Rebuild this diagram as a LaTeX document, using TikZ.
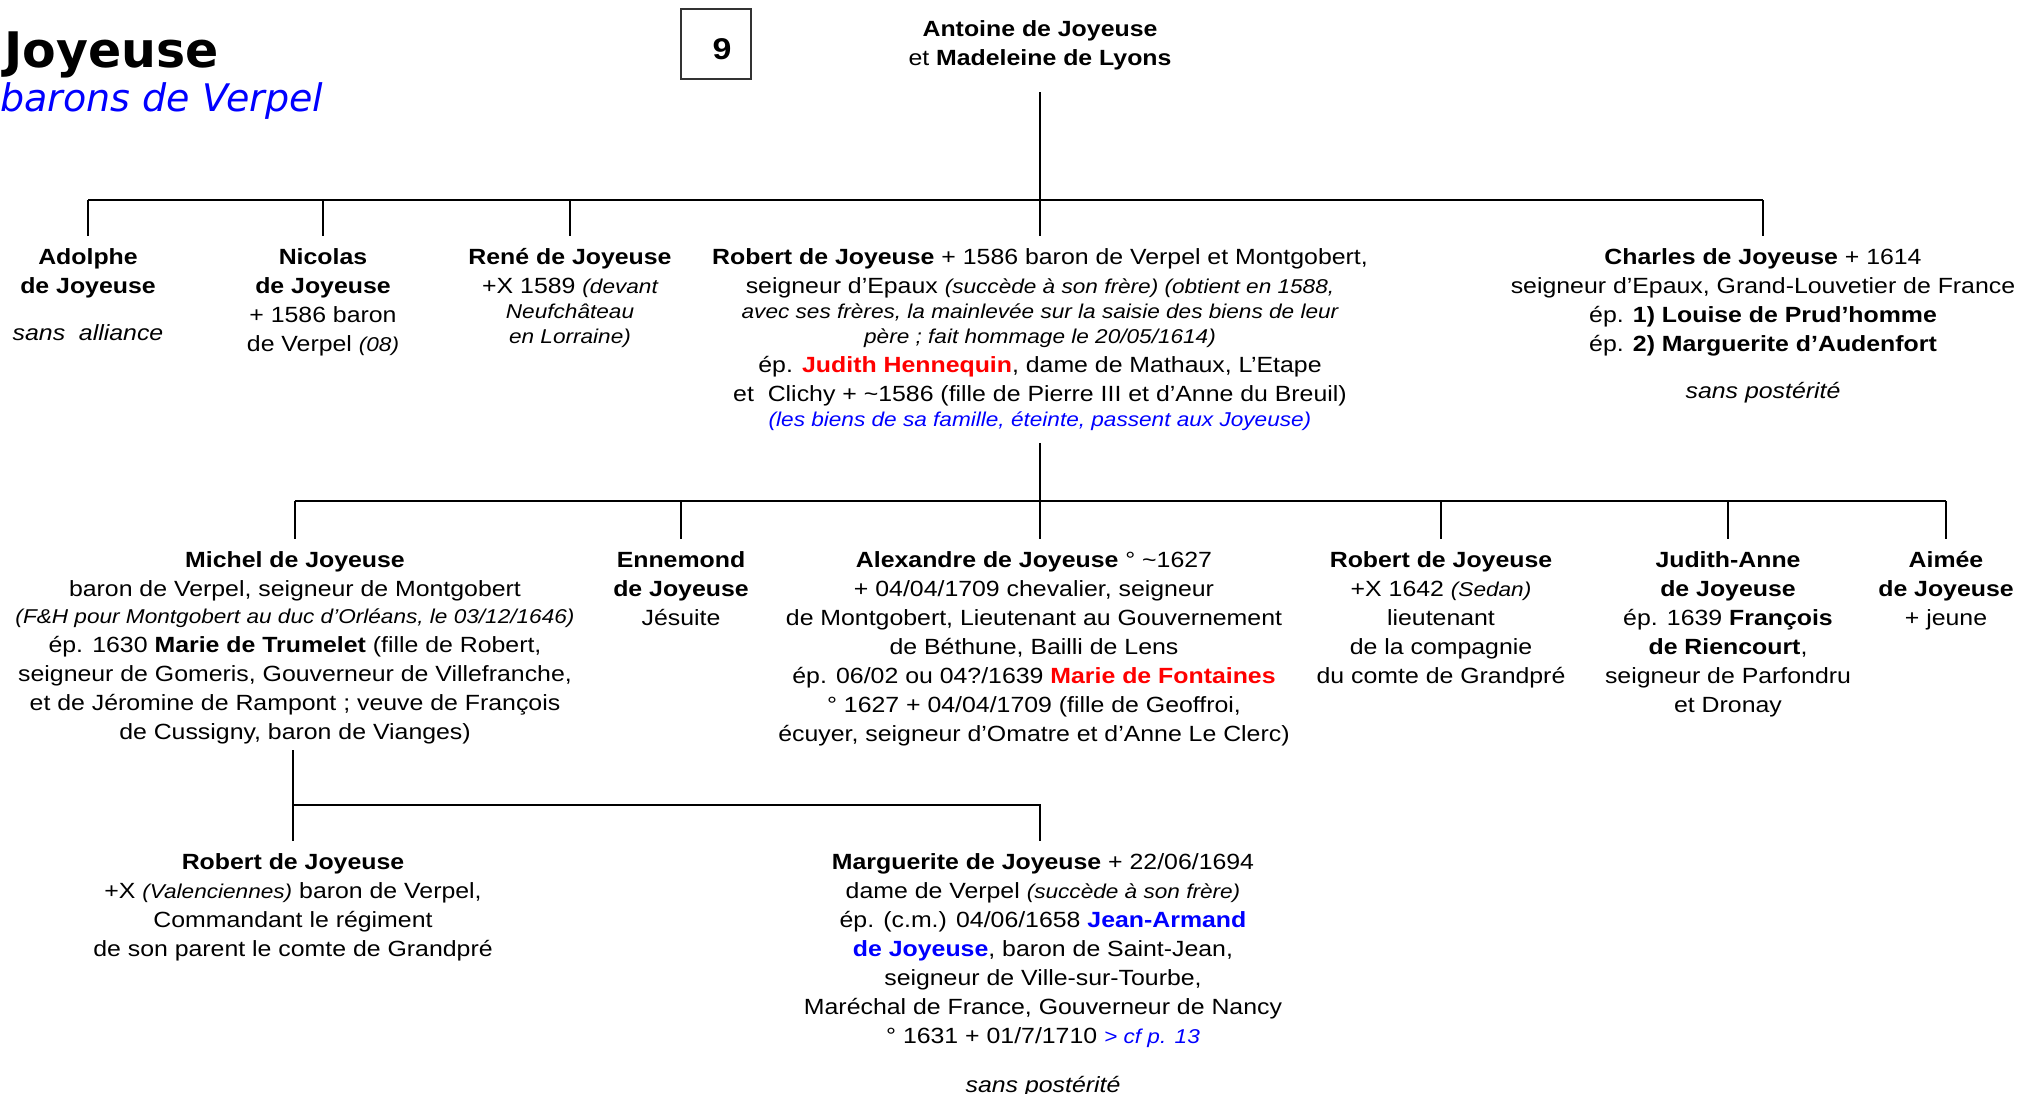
\documentclass[tikz,border=0pt]{standalone}
\usepackage{fontspec}
\setmainfont{Liberation Sans}[FakeStretch=1.13]
\newfontfamily\titlefont{DejaVu Sans}
\usepackage{tikz}
\definecolor{jred}{RGB}{255,0,0}
\definecolor{jblue}{RGB}{0,0,255}
\newcommand{\smit}[1]{{\fontsize{10}{12}\selectfont\itshape #1}}

\begin{document}
\begin{tikzpicture}[x=0.5pt, y=-0.5pt,
            person/.style={align=center, anchor=north, inner sep=0pt, font=\fontsize{11}{14.5}\selectfont},
            tree/.style={line width=1pt}]
            \useasboundingbox (0,0) rectangle (2019,1093);
            \node[anchor=base west, inner sep=0pt] (title) at (4,67) {\titlefont\fontsize{24.5}{30}\selectfont\bfseries Joyeuse};
            \node[anchor=base west, inner sep=0pt, text=jblue] (subtitle) at (0,111) {\titlefont\fontsize{19}{23}\selectfont\itshape barons de Verpel};
            \node[draw=black!80, line width=0.6pt, minimum size=35pt, inner sep=0pt, font=\fontsize{15}{18}\selectfont\bfseries] (page) at (716,44) {\hspace*{6pt}\raisebox{-2.5pt}[\height][0pt]{9}};

            \node[person] (antoine) at (1040,20) {\textbf{Antoine de Joyeuse}\\ et \textbf{Madeleine de Lyons}};

            \node[person] (adolphe) at (88,248) {\textbf{Adolphe}\\ \textbf{de Joyeuse}\\[9pt] \textit{sans \ alliance}};
            \node[person] (nicolas) at (323,248) {\textbf{Nicolas}\\ \textbf{de Joyeuse}\\ + 1586 baron\\ de Verpel \smit{(08)}};
            \node[person] (rene) at (570,248) {\textbf{René de Joyeuse}\\ +X 1589 \smit{(devant}\\[-2pt] \smit{Neufchâteau}\\[-2pt] \smit{en Lorraine)}};
            \node[person] (robert) at (1040,248) {\textbf{Robert de Joyeuse} + 1586 baron de Verpel et Montgobert,\\
                seigneur d’Epaux \smit{(succède à son frère) (obtient en 1588,}\\[-2pt]
                \smit{avec ses frères, la mainlevée sur la saisie des biens de leur}\\[-2pt]
                \smit{père ; fait hommage le 20/05/1614)}\\
                ép. \textcolor{jred}{\textbf{Judith Hennequin}}, dame de Mathaux, L’Etape\\
                et \ Clichy + \textasciitilde1586 (fille de Pierre III et d’Anne du Breuil)\\[-2pt]
                \textcolor{jblue}{\smit{(les biens de sa famille, éteinte, passent aux Joyeuse)}}};
            \node[person] (charles) at (1763,248) {\textbf{Charles de Joyeuse} + 1614\\ seigneur d’Epaux, Grand-Louvetier de France\\ ép. \textbf{1) Louise de Prud’homme}\\ ép. \textbf{2) Marguerite d’Audenfort}\\[9pt] \textit{sans postérité}};

            \node[person] (michel) at (295,551) {\textbf{Michel de Joyeuse}\\
                baron de Verpel, seigneur de Montgobert\\[-1pt]
                \smit{(F\&H pour Montgobert au duc d’Orléans, le 03/12/1646)}\\
                ép. 1630 \textbf{Marie de Trumelet} (fille de Robert,\\
                seigneur de Gomeris, Gouverneur de Villefranche,\\
                et de Jéromine de Rampont ; veuve de François\\
                de Cussigny, baron de Vianges)};
            \node[person] (ennemond) at (681,551) {\textbf{Ennemond}\\ \textbf{de Joyeuse}\\ Jésuite};
            \node[person] (alexandre) at (1034,551) {\textbf{Alexandre de Joyeuse} ° \textasciitilde1627\\
                + 04/04/1709 chevalier, seigneur\\
                de Montgobert, Lieutenant au Gouvernement\\
                de Béthune, Bailli de Lens\\
                ép. 06/02 ou 04?/1639 \textcolor{jred}{\textbf{Marie de Fontaines}}\\
                ° 1627 + 04/04/1709 (fille de Geoffroi,\\
                écuyer, seigneur d’Omatre et d’Anne Le Clerc)};
            \node[person] (robertlt) at (1441,551) {\textbf{Robert de Joyeuse}\\ +X 1642 \smit{(Sedan)}\\ lieutenant\\ de la compagnie\\ du comte de Grandpré};
            \node[person] (judith) at (1728,551) {\textbf{Judith-Anne}\\ \textbf{de Joyeuse}\\ ép. 1639 \textbf{François}\\ \textbf{de Riencourt},\\ seigneur de Parfondru\\ et Dronay};
            \node[person] (aimee) at (1946,551) {\textbf{Aimée}\\ \textbf{de Joyeuse}\\ + jeune};

            \node[person] (robertcdt) at (293,853) {\textbf{Robert de Joyeuse}\\ +X \smit{(Valenciennes)} baron de Verpel,\\ Commandant le régiment\\ de son parent le comte de Grandpré};
            \node[person] (marguerite) at (1043,853) {\textbf{Marguerite de Joyeuse} + 22/06/1694\\
                dame de Verpel \smit{(succède à son frère)}\\
                ép. (c.m.) 04/06/1658 \textcolor{jblue}{\textbf{Jean-Armand}}\\
                \textcolor{jblue}{\textbf{de Joyeuse}}, baron de Saint-Jean,\\
                seigneur de Ville-sur-Tourbe,\\
                Maréchal de France, Gouverneur de Nancy\\
                ° 1631 + 01/7/1710 \textcolor{jblue}{\smit{> cf p. 13}}\\[10pt]
                \textit{sans postérité}};

            \coordinate (bar1) at (1040,200);
            \coordinate (bar2) at (1040,501);
            \coordinate (bar3) at (1040,805);
            \draw[tree] ([yshift=-11pt]antoine.south) -- (bar1);
            \draw[tree] (adolphe.north |- bar1) -- (charles.north |- bar1);
            \foreach \kid in {adolphe,nicolas,rene,robert,charles}
                \draw[tree] (\kid.north |- bar1) -- ([yshift=6pt]\kid.north);
            \draw[tree] ([yshift=-6pt]robert.south) -- (bar2);
            \draw[tree] (michel.north |- bar2) -- (aimee.north |- bar2);
            \foreach \kid in {michel,ennemond,robertlt,judith,aimee}
                \draw[tree] (\kid.north |- bar2) -- ([yshift=6pt]\kid.north);
            \draw[tree] (bar2) -- ([yshift=6pt]bar2 |- alexandre.north);
            \draw[tree] ([yshift=-3pt]robertcdt.north |- michel.south) -- ([yshift=6pt]robertcdt.north);
            \draw[tree] (robertcdt.north |- bar3) -- (bar3) -- ([yshift=6pt]bar3 |- marguerite.north);
        \end{tikzpicture}
\end{document}
